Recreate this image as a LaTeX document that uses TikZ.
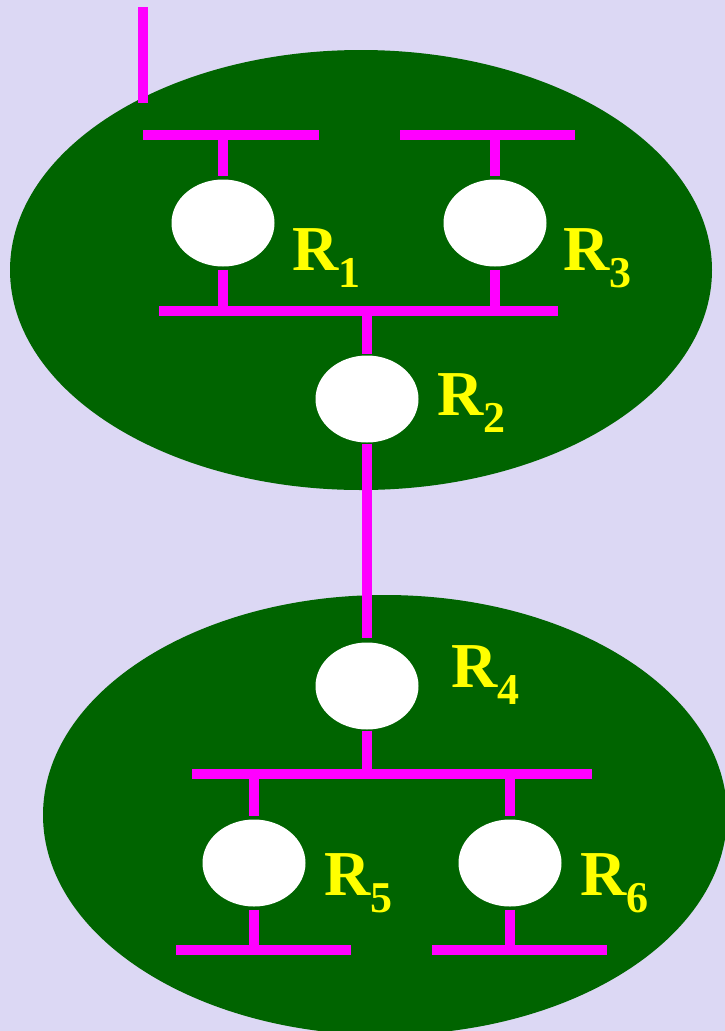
\documentclass[tikz,border=0pt]{standalone}
\usepackage{fontspec}
\setmainfont{Liberation Serif}
\usetikzlibrary{shapes.geometric}
\definecolor{bgcol}{HTML}{DCD8F4}
\definecolor{areagreen}{HTML}{006400}
\definecolor{linkpink}{HTML}{FF00FF}
\definecolor{labelyellow}{HTML}{FFFF00}
\newcommand{\rlabel}[1]{R\raisebox{-17pt}{\fontsize{44}{44}\selectfont #1}}
\tikzset{
  area/.style={ellipse, fill=areagreen, draw=none, inner sep=0pt},
  router/.style={ellipse, fill=white, draw=none, inner sep=0pt,
                 minimum width=103pt, minimum height=87pt},
  link/.style={draw=linkpink, line width=10pt},
  rname/.style={text=labelyellow, anchor=base west, inner sep=0pt,
                font=\fontsize{64}{64}\selectfont\bfseries},
}
\begin{document}
\begin{tikzpicture}[x=1pt,y=-1pt]
  \useasboundingbox (0,0) rectangle (725,1031);
  \clip (0,0) rectangle (725,1031);
  \fill[bgcol] (0,0) rectangle (725,1031);

  % two areas
  \node[area, minimum width=702pt, minimum height=440pt] (areaA) at (361,270) {};
  \node[area, minimum width=684pt, minimum height=440pt] (areaB) at (385,815) {};

  % routers
  \node[router] (r1) at (223,223) {};
  \node[router] (r3) at (495,223) {};
  \node[router] (r2) at (367,399) {};
  \node[router] (r4) at (367,686) {};
  \node[router] (r5) at (254,863) {};
  \node[router] (r6) at (510,863) {};

  % bus segments
  \coordinate (ext) at (143,7);
  \coordinate (extEnd) at (143,103);
  \coordinate (busAL) at (143,135);  \coordinate (busAR) at (319,135);
  \coordinate (busBL) at (400,135);  \coordinate (busBR) at (575,135);
  \coordinate (busCL) at (159,311);  \coordinate (busCR) at (558,311);
  \coordinate (busDL) at (192,774);  \coordinate (busDR) at (592,774);
  \coordinate (busEL) at (176,950);  \coordinate (busER) at (351,950);
  \coordinate (busFL) at (432,950);  \coordinate (busFR) at (607,950);

  \draw[link] (ext) -- (extEnd);
  \draw[link] (busAL) -- (busAR);
  \draw[link] (busBL) -- (busBR);
  \draw[link] (busCL) -- (busCR);
  \draw[link] (busDL) -- (busDR);
  \draw[link] (busEL) -- (busER);
  \draw[link] (busFL) -- (busFR);

  % router attachments
  \draw[link] (223,135) -- ([yshift=3pt]r1.north);
  \draw[link] ([yshift=-3pt]r1.south) -- (223,311);
  \draw[link] (495,135) -- ([yshift=3pt]r3.north);
  \draw[link] ([yshift=-3pt]r3.south) -- (495,311);
  \draw[link] (367,311) -- ([yshift=1pt]r2.north);
  \draw[link] ([yshift=-1pt]r2.south) -- ([yshift=4pt]r4.north);
  \draw[link] ([yshift=-1pt]r4.south) -- (367,774);
  \draw[link] (254,774) -- ([yshift=3pt]r5.north);
  \draw[link] ([yshift=-3pt]r5.south) -- (254,950);
  \draw[link] (510,774) -- ([yshift=3pt]r6.north);
  \draw[link] ([yshift=-3pt]r6.south) -- (510,950);

  % router names
  \node[rname] (n1) at (292,270) {\rlabel{1}};
  \node[rname] (n3) at (563,270) {\rlabel{3}};
  \node[rname] (n2) at (437,415) {\rlabel{2}};
  \node[rname] (n4) at (451,687) {\rlabel{4}};
  \node[rname] (n5) at (324,895) {\rlabel{5}};
  \node[rname] (n6) at (580,895) {\rlabel{6}};
\end{tikzpicture}
\end{document}
